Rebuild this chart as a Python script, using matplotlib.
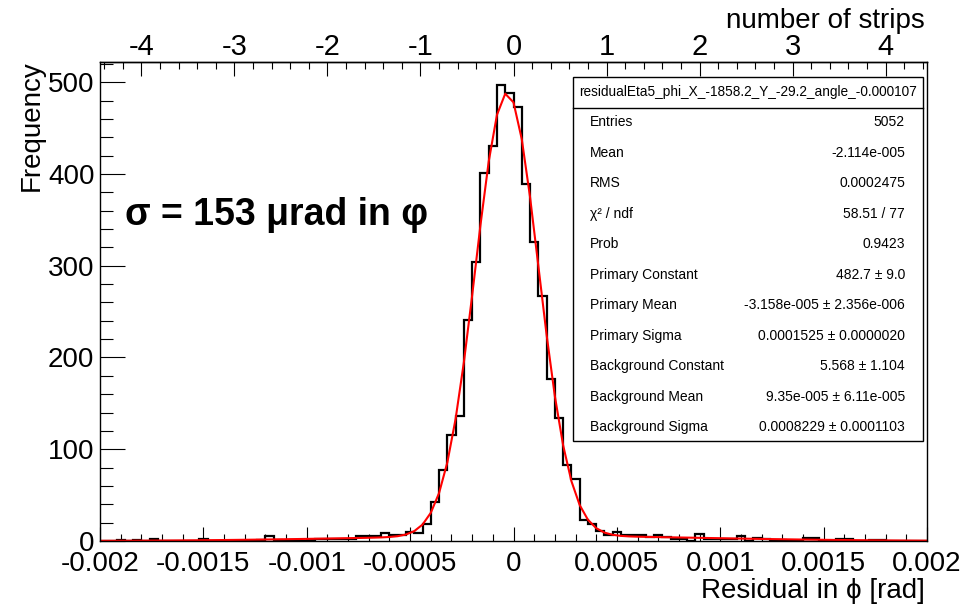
import numpy as np
import matplotlib
matplotlib.use('Agg')
import matplotlib.pyplot as plt
from matplotlib.patches import Rectangle
from matplotlib.lines import Line2D
from matplotlib.ticker import MultipleLocator

plt.rcParams['font.family'] = ['Liberation Sans', 'DejaVu Sans']
plt.rcParams['axes.unicode_minus'] = False

# ---------------- data ----------------
x_min, x_max = -0.002, 0.002
counts = [
    0, 0, 1, 0, 1, 0, 2, 0, 0, 0,
    0, 0, 2, 0, 0, 0, 0, 0, 0, 1,
    5, 1, 0, 1, 0, 1, 2, 2, 2, 2,
    2, 5, 5, 5, 9, 7, 6, 10, 9, 19,
    43, 77, 115, 136, 241, 304, 401, 430, 497, 488,
    473, 389, 326, 267, 176, 134, 83, 68, 23, 19,
    11, 7, 10, 6, 6, 6, 4, 6, 4, 2,
    2, 0, 8, 2, 2, 2, 2, 5, 0, 3,
    2, 1, 1, 0, 0, 3, 3, 0, 0, 2,
    2, 0, 0, 1, 1, 0, 0, 0, 0, 0,
]
strip_pitch = 0.00045  # rad per strip (top axis)

# fit parameters (from stats box)
prim_const, prim_mean, prim_sigma = 482.7, -3.158e-05, 0.0001525
bkg_const, bkg_mean, bkg_sigma = 5.568, 9.35e-05, 0.0008229

x_ticks = [-0.002, -0.0015, -0.001, -0.0005, 0.0, 0.0005, 0.001, 0.0015, 0.002]
x_tick_labels = ["-0.002", "-0.0015", "-0.001", "-0.0005", "0", "0.0005", "0.001", "0.0015", "0.002"]
y_ticks = [0, 100, 200, 300, 400, 500]
strip_ticks = [-4, -3, -2, -1, 0, 1, 2, 3, 4]
strip_tick_labels = ["-4", "-3", "-2", "-1", "0", "1", "2", "3", "4"]

stats_title = "residualEta5_phi_X_-1858.2_Y_-29.2_angle_-0.000107"
stats_labels = ["Entries", "Mean", "RMS", "\u03c7\u00b2 / ndf", "Prob", "Primary Constant",
                "Primary Mean", "Primary Sigma", "Background Constant", "Background Mean",
                "Background Sigma"]
stats_values = ["5052", "-2.114e-005", "0.0002475", "58.51 / 77", "0.9423", "482.7 \u00b1 9.0",
                "-3.158e-005 \u00b1 2.356e-006", "0.0001525 \u00b1 0.0000020", "5.568 \u00b1 1.104",
                "9.35e-005 \u00b1 6.11e-005", "0.0008229 \u00b1 0.0001103"]

annotation = "\u03c3 = 153 \u03bcrad in \u03c6"

# ---------------- figure ----------------
W, H = 961, 605
fig = plt.figure(figsize=(W / 100, H / 100), dpi=100)
fig.patch.set_facecolor('white')

ax = fig.add_axes([100 / W, 1 - 541 / H, 827 / W, (541 - 62) / H])
edges = np.linspace(x_min, x_max, len(counts) + 1)
ax.stairs(counts, edges, color='black', linewidth=1.6, baseline=0)

xf = np.linspace(x_min, x_max, 101)
yf = (prim_const * np.exp(-0.5 * ((xf - prim_mean) / prim_sigma) ** 2)
      + bkg_const * np.exp(-0.5 * ((xf - bkg_mean) / bkg_sigma) ** 2))
ax.plot(xf, yf, color='red', linewidth=1.5)

ax.set_xlim(x_min, x_max)
ax.set_ylim(0, 522)
for s in ax.spines.values():
    s.set_linewidth(1.0)
    s.set_color('black')

ax.set_xticks(x_ticks, labels=x_tick_labels)
ax.xaxis.set_minor_locator(MultipleLocator(0.0001))
ax.set_yticks(y_ticks)
ax.yaxis.set_minor_locator(MultipleLocator(20))
ax.tick_params(axis='x', which='major', direction='in', length=10, width=0.8, labelsize=20, pad=7)
ax.tick_params(axis='x', which='minor', direction='in', length=5, width=0.8)
ax.tick_params(axis='y', which='major', direction='in', length=18, width=0.8, labelsize=20, pad=4)
ax.tick_params(axis='y', which='minor', direction='in', length=9, width=0.8)

sec = ax.secondary_xaxis('top', functions=(lambda v: v / strip_pitch, lambda s: s * strip_pitch))
sec.set_xticks(strip_ticks, labels=strip_tick_labels)
sec.xaxis.set_minor_locator(MultipleLocator(0.2))
sec.tick_params(axis='x', which='major', direction='in', length=10, width=0.8, pad=1, labelsize=21)
sec.tick_params(axis='x', which='minor', direction='in', length=5, width=0.8)
sec.spines['top'].set_linewidth(1.0)

# axis titles
fig.text(925 / W, 1 - 21 / H, "number of strips", ha='right', va='center', fontsize=20)
fig.text(925 / W, 1 - 591 / H, "Residual in \u03d5 [rad]", ha='right', va='center', fontsize=20)
fig.text(32 / W, 1 - 60 / H, "Frequency", ha='center', va='top', rotation=90, fontsize=20)

# annotation
fig.text(125 / W, 1 - 215 / H, annotation, ha='left', va='center', fontsize=27, fontweight='bold')

# stats box
bx0, bx1, by0, by1 = 573, 923, 77, 441
fig.add_artist(Rectangle((bx0 / W, 1 - by1 / H), (bx1 - bx0) / W, (by1 - by0) / H,
                         transform=fig.transFigure, facecolor='white', edgecolor='black',
                         linewidth=1.0, zorder=5))
fig.add_artist(Line2D([bx0 / W, bx1 / W], [1 - 107.5 / H, 1 - 107.5 / H],
                      transform=fig.transFigure, color='black', linewidth=1.0, zorder=6))
fig.text((bx0 + bx1) / 2 / W, 1 - 92 / H, stats_title, ha='center', va='center', fontsize=9.8, zorder=7)
row0, dy = 122.5, 30.45
for k, (lab, val) in enumerate(zip(stats_labels, stats_values)):
    yy = 1 - (row0 + k * dy) / H
    fig.text(590 / W, yy, lab, ha='left', va='center', fontsize=10, zorder=7)
    fig.text(905 / W, yy, val, ha='right', va='center', fontsize=10, zorder=7)

fig.savefig('out.png', dpi=100)
